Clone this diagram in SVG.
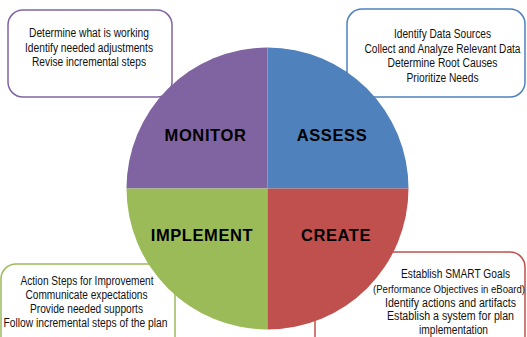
<svg xmlns="http://www.w3.org/2000/svg" width="527" height="337" viewBox="0 0 527 337">
<style>
.box{fill:#fff;stroke-width:1.5}
.t{font-family:"Liberation Sans",Arial,sans-serif;font-size:12.5px;fill:#111;text-anchor:middle}
.s{font-size:11px}
.lbl{font-family:"Liberation Sans",Arial,sans-serif;font-weight:bold;font-size:16.5px;fill:#000;text-anchor:middle;letter-spacing:0.6px}
</style>
<rect width="527" height="337" fill="#fff"/>
<g id="monitor-box">
<rect class="box" x="8" y="10" width="164" height="87" rx="15" stroke="#8064A2"/>
<text class="t" x="89" y="37" textLength="120" lengthAdjust="spacingAndGlyphs">Determine what is working</text>
<text class="t" x="89" y="52" textLength="128" lengthAdjust="spacingAndGlyphs">Identify needed adjustments</text>
<text class="t" x="89" y="66" textLength="114" lengthAdjust="spacingAndGlyphs">Revise incremental steps</text>
</g>
<g id="assess-box">
<rect class="box" x="347" y="9" width="178" height="88" rx="15" stroke="#4F81BD"/>
<text class="t" x="442.5" y="38" textLength="97" lengthAdjust="spacingAndGlyphs">Identify Data Sources</text>
<text class="t" x="442.5" y="53" textLength="156" lengthAdjust="spacingAndGlyphs">Collect and Analyze Relevant Data</text>
<text class="t" x="442.5" y="67" textLength="110" lengthAdjust="spacingAndGlyphs">Determine Root Causes</text>
<text class="t" x="442.5" y="82" textLength="72" lengthAdjust="spacingAndGlyphs">Prioritize Needs</text>
</g>
<g id="implement-box">
<rect class="box" x="1" y="264" width="174" height="90" rx="15" stroke="#9BBB59"/>
<text class="t" x="87" y="285" textLength="133" lengthAdjust="spacingAndGlyphs">Action Steps for Improvement</text>
<text class="t" x="86.5" y="299" textLength="122" lengthAdjust="spacingAndGlyphs">Communicate expectations</text>
<text class="t" x="86.5" y="313" textLength="113" lengthAdjust="spacingAndGlyphs">Provide needed supports</text>
<text class="t" x="85.5" y="327" textLength="164" lengthAdjust="spacingAndGlyphs">Follow incremental steps of the plan</text>
</g>
<g id="create-box">
<rect class="box" x="315" y="252" width="210" height="100" rx="15" stroke="#C0504D"/>
<text class="t" x="455.5" y="278" textLength="109" lengthAdjust="spacingAndGlyphs">Establish SMART Goals</text>
<text class="t s" x="449" y="293" textLength="152" lengthAdjust="spacingAndGlyphs">(Performance Objectives in eBoard)</text>
<text class="t" x="450.5" y="307" textLength="131" lengthAdjust="spacingAndGlyphs">Identify actions and artifacts</text>
<text class="t" x="450.5" y="320" textLength="127" lengthAdjust="spacingAndGlyphs">Establish a system for plan</text>
<text class="t" x="453.5" y="334" textLength="69" lengthAdjust="spacingAndGlyphs">implementation</text>
</g>
<g id="monitor">
<path d="M267.5 188.5 L126.5 188.5 A141 141 0 0 1 267.5 47.5 Z" fill="#8064A2"/>
<text class="lbl" x="205.5" y="141">MONITOR</text>
</g>
<g id="assess">
<path d="M267.5 188.5 L267.5 47.5 A141 141 0 0 1 408.5 188.5 Z" fill="#4F81BD"/>
<text class="lbl" x="332" y="141">ASSESS</text>
</g>
<g id="implement">
<path d="M267.5 188.5 L267.5 329.5 A141 141 0 0 1 126.5 188.5 Z" fill="#9BBB59"/>
<text class="lbl" x="202" y="241">IMPLEMENT</text>
</g>
<g id="create">
<path d="M267.5 188.5 L408.5 188.5 A141 141 0 0 1 267.5 329.5 Z" fill="#C0504D"/>
<text class="lbl" x="336" y="241">CREATE</text>
</g>
<g id="connectors"></g>
</svg>
